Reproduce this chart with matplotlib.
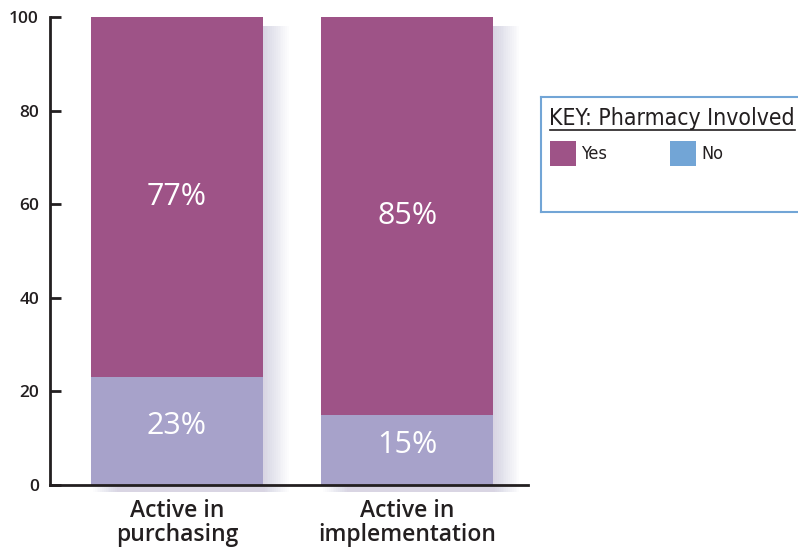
import matplotlib
matplotlib.use("Agg")
import matplotlib.pyplot as plt
from matplotlib.patches import Rectangle

categories = ["Active in\npurchasing", "Active in\nimplementation"]
no_vals = [23, 15]
yes_vals = [77, 85]
yticks = [0, 20, 40, 60, 80, 100]

PURPLE = "#9E5387"
LAVENDER = "#A7A2CA"
KEYBLUE = "#72A5D6"
DARK = "#231F20"

fig = plt.figure(figsize=(7.98, 5.53), dpi=100)
ax = fig.add_axes([50/798, 68/553, (528-50)/798, (485-17)/553])

x = list(range(len(categories)))
width = 0.746

# soft shadow
n = 14
for i in x:
    total = no_vals[i] + yes_vals[i]
    for k in range(n):
        off = 0.008 * (k + 1)
        ax.add_patch(Rectangle((i - width/2 + off, -1.5), width, total - 0.5,
                               facecolor="#7d6f9a", alpha=0.018, edgecolor="none",
                               zorder=1, clip_on=False))

ax.bar(x, no_vals, width=width, color=LAVENDER, zorder=2)
ax.bar(x, yes_vals, width=width, bottom=no_vals, color=PURPLE, zorder=2)

for i in x:
    ax.text(i, no_vals[i] / 2 + 1, f"{no_vals[i]}%", ha="center", va="center",
            color="white", fontsize=22, family="Open Sans", fontweight="medium", zorder=3)
    ax.text(i, no_vals[i] + yes_vals[i] / 2, f"{yes_vals[i]}%", ha="center", va="center",
            color="white", fontsize=22, family="Open Sans", fontweight="medium", zorder=3)

ax.set_xlim(-0.551, 1.523)
ax.set_ylim(0, 100)
ax.set_yticks(yticks)
ax.set_yticklabels([str(t) for t in yticks], family="Open Sans", fontsize=12.5,
                   fontweight="semibold", color=DARK)
ax.set_xticks(x)
ax.set_xticklabels(categories, family="Open Sans", fontsize=16.5, fontweight="semibold",
                   color=DARK, linespacing=1.0)
ax.tick_params(axis="x", length=0, pad=10)
ax.tick_params(axis="y", direction="in", length=8, width=2, color=DARK, pad=8)
for s in ["top", "right"]:
    ax.spines[s].set_visible(False)
for s in ["left", "bottom"]:
    ax.spines[s].set_linewidth(2)
    ax.spines[s].set_color(DARK)
ax.spines["left"].set_zorder(4)
ax.spines["bottom"].set_zorder(4)

# key box
kx0, ky0, kx1, ky1 = 541, 97, 810, 212
kax = fig.add_axes([kx0/798, (553-ky1)/553, (kx1-kx0)/798, (ky1-ky0)/553])
kax.set_xlim(kx0, kx1)
kax.set_ylim(ky1, ky0)
kax.set_xticks([]); kax.set_yticks([])
for s in kax.spines.values():
    s.set_color(KEYBLUE)
    s.set_linewidth(1.5)
kfont = dict(family="DejaVu Sans", stretch="condensed", color=DARK)
kax.text(549, 118, "KEY: Pharmacy Involved", ha="left", va="center", fontsize=16.5, **kfont)
kax.plot([550, 795], [130, 130], color=DARK, lw=1.2)
kax.add_patch(Rectangle((550, 141), 26, 25, facecolor=PURPLE, edgecolor="none"))
kax.add_patch(Rectangle((670, 141), 26, 25, facecolor=KEYBLUE, edgecolor="none"))
kax.text(581, 154, "Yes", ha="left", va="center", fontsize=13, **kfont)
kax.text(701, 154, "No", ha="left", va="center", fontsize=13, **kfont)

fig.savefig("out.png", dpi=100)
